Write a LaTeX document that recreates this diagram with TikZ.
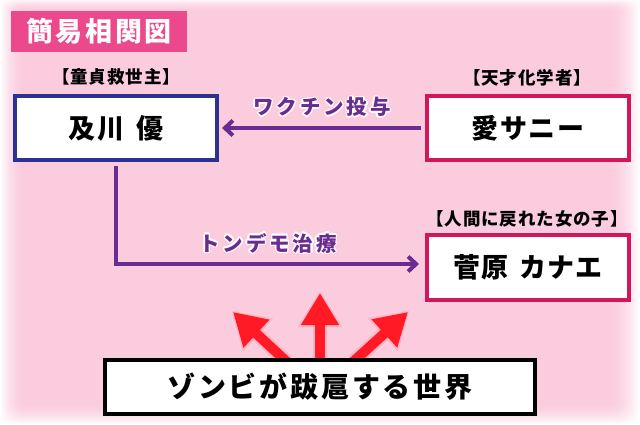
\documentclass[tikz,border=0pt]{standalone}
\usepackage{fontspec}
\usetikzlibrary{arrows.meta,calc}
\newfontfamily\jpn{Noto Sans CJK JP}[LetterSpace=5]
\newfontfamily\jpl{Noto Sans CJK JP}[LetterSpace=14]
\newfontfamily\jpw{Noto Sans CJK JP}[LetterSpace=10]
\definecolor{bgpink}{RGB}{251,203,222}
\definecolor{titlepink}{RGB}{236,72,140}
\definecolor{navy}{RGB}{46,49,146}
\definecolor{crim}{RGB}{210,22,94}
\definecolor{purp}{RGB}{106,44,144}
\definecolor{zred}{RGB}{255,26,37}
\newcommand\glowtext[3]{%
  \foreach \a in {0,30,...,330}{\node[lab,text=white] at ($(#2)+(\a:1.4)$) {#3};}%
  \node[lab,text=purp] (#1) at (#2) {#3};}
\begin{document}
\begin{tikzpicture}[x=1pt,y=-1pt,
  lab/.style={font=\jpl\bfseries\fontsize{20.5}{20.5}\selectfont, inner sep=0pt},
  box/.style={draw, line width=4pt, fill=white, minimum width=202pt, minimum height=64pt,
    font=\jpn\bfseries\fontsize{27}{27}\selectfont, inner sep=0pt},
  tag/.style={font=\jpn\bfseries\fontsize{17.5}{17.5}\selectfont, inner sep=0pt},
  parrow/.style={draw=purp, line width=4pt, -{Straight Barb[length=8pt,width=15pt]}},
  rarrow/.style={draw=zred, line width=10pt, -{Triangle[length=32pt,width=36pt]}},
  rglow/.style={draw=zred!50, opacity=0.35, line width=14pt, -{Triangle[length=36pt,width=42pt]}}]
\useasboundingbox (0,0) rectangle (640,425);
% background with white fading edges
\fill[bgpink] (0,0) rectangle (640,425);
\foreach \i [evaluate=\i as \o using {(1-\i/26)^2}] in {0,...,25}
  {\fill[white, opacity=\o] (\i,0) rectangle (\i+1,425);}
\foreach \i [evaluate=\i as \o using {(1-\i/34)^2}] in {0,...,33}
  {\fill[white, opacity=\o] (639-\i,0) rectangle (640-\i,425);}
\foreach \i [evaluate=\i as \o using {0.8*(1-\i/12)^2}] in {0,...,11}
  {\fill[white, opacity=\o] (0,\i) rectangle (640,\i+1);}
\foreach \i [evaluate=\i as \o using {(1-\i/24)^2}] in {0,...,23}
  {\fill[white, opacity=\o] (0,424-\i) rectangle (640,425-\i);}
% title
\node[fill=titlepink, minimum width=176pt, minimum height=41pt, inner sep=0pt,
  text=white, font=\jpw\bfseries\fontsize{27}{27}\selectfont] (title) at (99,31.5) {簡易相関図};
% boxes
\node[box, draw=navy] (b1) at (116,128) {及川\hspace{0.45em}優};
\node[box, draw=crim] (b2) at (528,128) {愛サニー};
\node[box, draw=crim, minimum height=65pt] (b3) at (528,267.5) {菅原\hspace{0.4em}カナエ};
% tags
\node[tag] (t1) at (116,77) {【童貞救世主】};
\node[tag] (t2) at (527,78) {【天才化学者】};
\node[tag] (t3) at (527,219) {【人間に戻れた女の子】};
% purple arrows
\draw[parrow, shorten <=4pt, shorten >=3pt] (b2.west) -- (b1.east);
\draw[parrow, shorten <=4pt, shorten >=6pt] (b1.south) |- ([yshift=3.5pt]b3.west);
\glowtext{l1}{322,107}{ワクチン投与}
\glowtext{l2}{268,243}{トンデモ治療}
% red arrows
\coordinate (tl) at (233,312);
\coordinate (tm) at (320,293);
\coordinate (tr) at (408,312);
\coordinate (sl) at (287,362);
\coordinate (sm) at (320,362);
\coordinate (sr) at (353,362);
\foreach \s/\t in {sl/tl,sm/tm,sr/tr}{\draw[rglow] (\s) -- ($(\t)!-2pt!(\s)$);}
\foreach \s/\t in {sl/tl,sm/tm,sr/tr}{\draw[rarrow] (\s) -- (\t);}
% world box
\node[draw=black, line width=4pt, fill=white, minimum width=430pt, minimum height=54pt,
  inner sep=0pt, font=\jpw\bfseries\fontsize{28}{28}\selectfont] (w) at (320,387) {ゾンビが跋扈する世界};
\end{tikzpicture}
\end{document}
